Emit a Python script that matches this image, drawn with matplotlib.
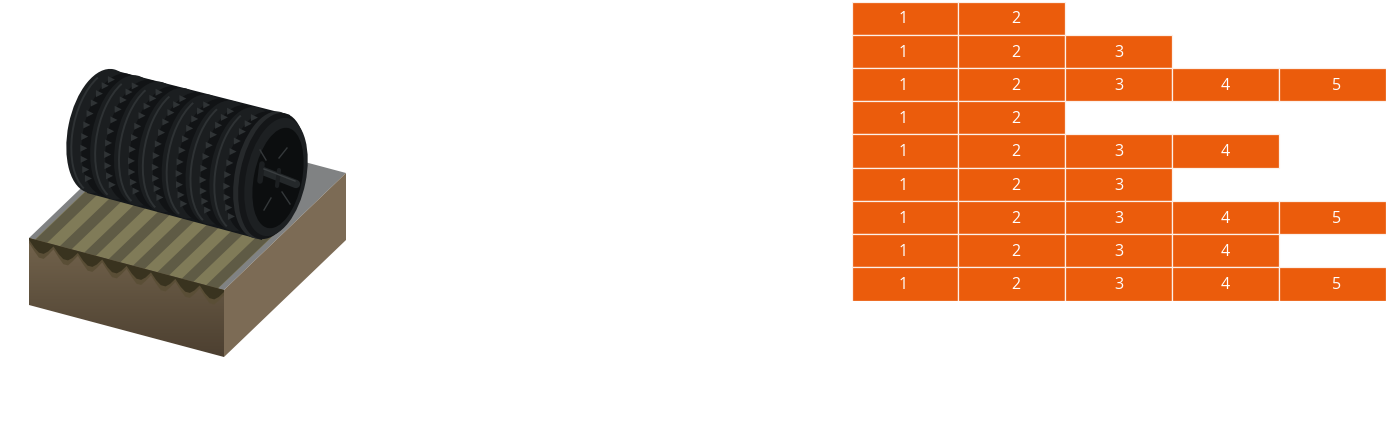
#!/usr/bin/env python3
"""Segment table next to a sketch of a ribbed roller on a corrugated block."""

import matplotlib

matplotlib.use("Agg")

import matplotlib.pyplot as plt
import numpy as np
from matplotlib.patches import Arc, Ellipse, Polygon

WIDTH, HEIGHT = 1388, 428
ORANGE = "#eb5c0c"

# number of numbered cells in each table row, top to bottom
row_counts = [2, 3, 5, 2, 4, 3, 5, 4, 5]
column_labels = ["1", "2", "3", "4", "5"]

TILE_BOX = (851.5, 1.5, 1386, 300.5)
LABEL_SHIFT = [-0.02, 0.04, 0.0, 0.0, 0.04]

plt.rcParams["font.family"] = ["Open Sans", "DejaVu Sans"]
fig = plt.figure(figsize=(WIDTH / 100, HEIGHT / 100), dpi=100, facecolor="white")


def draw_table():
    x0, y0, x1, y1 = TILE_BOX
    ax = fig.add_axes([x0 / WIDTH, 1 - y1 / HEIGHT, (x1 - x0) / WIDTH, (y1 - y0) / HEIGHT])
    ax.set_xlim(0, len(column_labels))
    ax.set_ylim(len(row_counts), 0)
    ax.axis("off")
    for row, count in enumerate(row_counts):
        ax.barh(
            row + 0.5,
            [1] * count,
            left=range(count),
            height=1,
            color=ORANGE,
            edgecolor="#fdf0e8",
            linewidth=0.9,
        )
        for col in range(count):
            ax.text(
                col + 0.5 + LABEL_SHIFT[col],
                row + 0.54,
                column_labels[col],
                color="white",
                fontsize=11.5,
                ha="center",
                va="center",
            )


def edge_point(t, depth=0.0, run=0.0):
    # t along the front edge, depth down the front face, run back over the top
    return (29 + 195 * t + 122 * run, 238 + 52 * t + depth - 117 * run)


def draw_block(ax):
    top = Polygon([(29, 238), (151, 121), (346, 173), (224, 290)], fc="#808283", ec="none")
    ax.add_patch(top)

    # olive corrugation running back from the front edge
    ax.add_patch(Polygon(
        [edge_point(0.03), edge_point(0.03, run=0.6), edge_point(0.97, run=0.6), edge_point(0.97)],
        fc="#807b58",
        ec="none",
    ))
    for k in range(8):
        mid = 0.063 + k * 0.125
        ax.add_patch(Polygon(
            [
                edge_point(mid - 0.03),
                edge_point(mid - 0.03, run=0.6),
                edge_point(mid + 0.03, run=0.6),
                edge_point(mid + 0.03),
            ],
            fc="#5f5b45",
            ec="none",
        ))

    # front face with top to bottom shading
    front = Polygon([(29, 238), (224, 290), (224, 357), (29, 305)], fc="none", ec="none")
    ax.add_patch(front)
    shade = np.linspace(0, 1, 128).reshape(-1, 1, 1)
    rgb = (1 - shade) * np.array([0.45, 0.39, 0.30]) + shade * np.array([0.30, 0.25, 0.19])
    image = ax.imshow(rgb, extent=(29, 224, 357, 238), aspect="auto", zorder=1.5)
    image.set_clip_path(front)

    right = Polygon([(224, 290), (346, 173), (346, 240), (224, 357)], fc="#7c6b55", ec="none", zorder=1.6)
    ax.add_patch(right)

    # grooves cut into the top of the front face
    for crest, dip, color in [(5.0, 17.0, "#5a4e36"), (2.0, 12.0, "#39331f")]:
        outline = [edge_point(0)]
        for k in range(8):
            mid = 0.063 + k * 0.125
            outline += [
                edge_point(mid - 0.062, crest),
                edge_point(mid - 0.035, 0.7 * dip),
                edge_point(mid - 0.012, dip),
                edge_point(mid + 0.012, dip),
                edge_point(mid + 0.035, 0.7 * dip),
                edge_point(mid + 0.062, crest),
            ]
        outline.append(edge_point(1))
        ax.add_patch(Polygon(outline, fc=color, ec="none", zorder=1.8))


def tilted(ax, cx, cy, half_w, half_h, color, zorder):
    ax.add_patch(Ellipse((cx, cy), 2 * half_w, 2 * half_h, angle=11.5, fc=color, ec="none", zorder=zorder))


def left_arc(ax, cx, cy, half_w, half_h, color, lw, zorder):
    ax.add_patch(Arc(
        (cx, cy), 2 * half_w, 2 * half_h, angle=11.5, theta1=100, theta2=250,
        color=color, lw=lw, zorder=zorder,
    ))


def draw_roller(ax):
    z = 3.0
    tires = 7
    # straight shell behind the rings so the top and bottom stay nearly flat
    ax.add_patch(Polygon([(113, 70), (290, 115), (262, 240), (87, 193)], fc="#14171a", ec="none", zorder=z - 0.1))
    for i in range(tires):
        t = i / (tires - 1)
        cx = 101 + 143 * t
        cy = 131 + 38 * t
        # smooth tread on the left of each ring, then the toothed shoulder
        tilted(ax, cx, cy, 33, 63, "#1b1e20", z)
        left_arc(ax, cx + 5, cy + 1, 33, 63, "#2e3234", 1.4, z + 0.01)
        tilted(ax, cx + 14, cy + 3.5, 32, 62, "#111315", z + 0.015)
        for a in np.radians(np.linspace(128, 238, 11)):
            sx = 32 * np.cos(a)
            sy = 62 * np.sin(a)
            px = cx + 14 + sx * 0.98 - sy * 0.2
            py = cy + 3.5 + sx * 0.2 + sy * 0.98
            ax.add_patch(Polygon(
                [(px - 1, py - 3.5), (px + 6, py), (px - 1, py + 3.5)],
                fc="#2f3335",
                ec="none",
                zorder=z + 0.02,
            ))
        z += 0.1

    # front face of the last ring
    fx, fy = 275, 177
    tilted(ax, fx - 8, fy - 2, 32, 64.5, "#26292b", z)
    tilted(ax, fx - 3, fy - 1, 32, 64, "#141618", z + 0.01)
    tilted(ax, fx + 1, fy, 30, 60, "#1d2022", z + 0.02)
    tilted(ax, fx + 3, fy + 1, 24, 51, "#0c0e0f", z + 0.03)

    # spokes and axle
    for x_a, y_a, x_b, y_b in [(287, 148, 279, 158), (271, 198, 264, 210), (260, 150, 266, 160), (282, 192, 290, 204)]:
        ax.plot([x_a, x_b], [y_a, y_b], color="#34383a", lw=1.0, zorder=z + 0.04)
    ax.plot([263, 296], [171, 184], color="#24282a", lw=6, solid_capstyle="round", zorder=z + 0.05)
    ax.plot([264, 295], [169, 181], color="#3a3e40", lw=1.0, zorder=z + 0.06)
    ax.plot([262, 260], [164, 181], color="#1c1f21", lw=4, solid_capstyle="round", zorder=z + 0.05)
    ax.plot([279, 277], [170, 186], color="#1c1f21", lw=3, solid_capstyle="round", zorder=z + 0.05)


def draw_sketch():
    ax = fig.add_axes([0, 0, 1, 1])
    ax.patch.set_alpha(0)
    draw_block(ax)
    draw_roller(ax)
    ax.set_xlim(0, WIDTH)
    ax.set_ylim(HEIGHT, 0)
    ax.axis("off")


def main():
    draw_sketch()
    draw_table()
    fig.savefig("out.png", dpi=100)


if __name__ == "__main__":
    main()
